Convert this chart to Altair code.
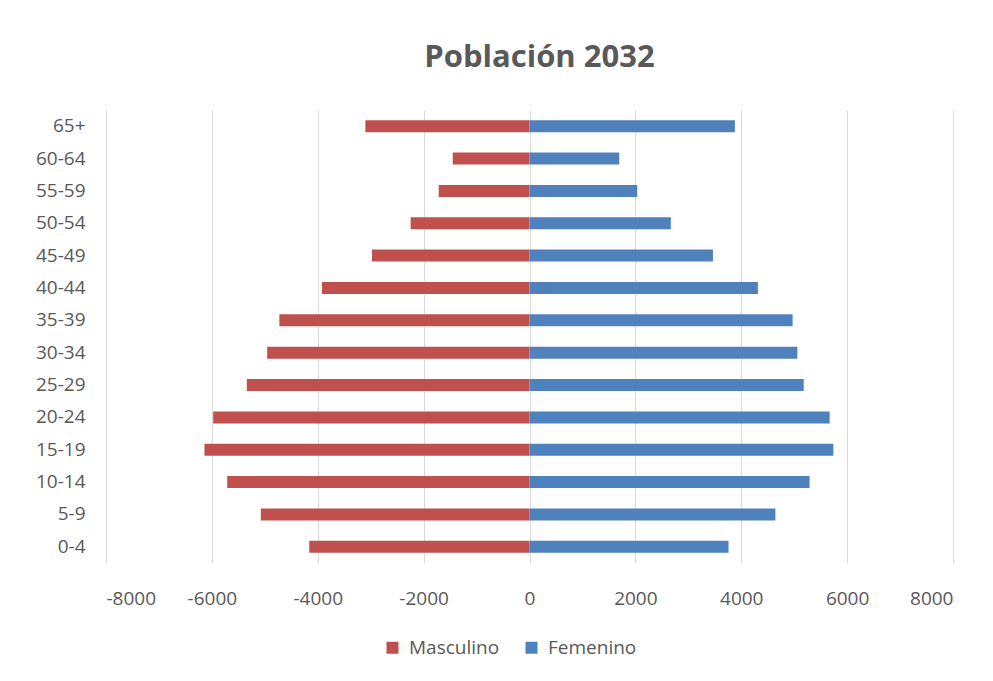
import altair as alt
import pandas as pd

ages = ["0-4", "5-9", "10-14", "15-19", "20-24", "25-29", "30-34",
        "35-39", "40-44", "45-49", "50-54", "55-59", "60-64", "65+"]
masculino = [-4160, -5075, -5710, -6140, -5975, -5340, -4955,
             -4725, -3920, -2975, -2245, -1715, -1450, -3100]
femenino = [3760, 4645, 5290, 5740, 5670, 5180, 5060,
            4970, 4315, 3465, 2670, 2035, 1695, 3880]
series = ["Masculino", "Femenino"]
colors = ["#C0504D", "#4F81BD"]
x_ticks = [-8000, -6000, -4000, -2000, 0, 2000, 4000, 6000, 8000]

rows = []
for a, m, f in zip(ages, masculino, femenino):
    rows.append({"edad": a, "sexo": "Masculino", "valor": m})
    rows.append({"edad": a, "sexo": "Femenino", "valor": f})
df = pd.DataFrame(rows)

FONT = "Open Sans"
GREY = "#595959"

chart = alt.Chart(df).mark_bar().encode(
    x=alt.X("valor:Q", stack=None,
            scale=alt.Scale(domain=[-8000, 8000], nice=False, zero=False),
            axis=alt.Axis(values=x_ticks, title=None, grid=True, gridColor="#D9D9D9",
                          gridWidth=1, domain=False, ticks=False, labelPadding=26,
                          labelFontSize=19, labelColor=GREY, labelFont=FONT,
                          labelExpr="'' + datum.value")),
    y=alt.Y("edad:N", sort=list(reversed(ages)),
            scale=alt.Scale(paddingInner=0.63, paddingOuter=0.315),
            axis=alt.Axis(title=None, domain=False, ticks=False, labelPadding=21,
                          labelFontSize=19, labelColor=GREY, labelFont=FONT)),
    color=alt.Color("sexo:N",
                    scale=alt.Scale(domain=series, range=colors),
                    legend=alt.Legend(title=None, orient="none", direction="horizontal",
                                      legendX=277, legendY=528, padding=0,
                                      symbolType="square", symbolSize=144,
                                      symbolStrokeWidth=0, labelFontSize=19,
                                      labelColor=GREY, labelFont=FONT,
                                      labelOffset=7, columnPadding=22)),
).properties(
    width=847,
    height=453,
    title=alt.TitleParams("Población 2032", fontSize=31, font=FONT, fontWeight="bold",
                          color=GREY, anchor="middle", offset=36, dx=10),
    autosize=alt.AutoSizeParams(type="none"),
    padding={"left": 98, "top": 102, "right": 32, "bottom": 110},
    background="white",
).configure_view(stroke=None)

chart.save("out.html", embed_options={"renderer": "svg", "actions": False})
